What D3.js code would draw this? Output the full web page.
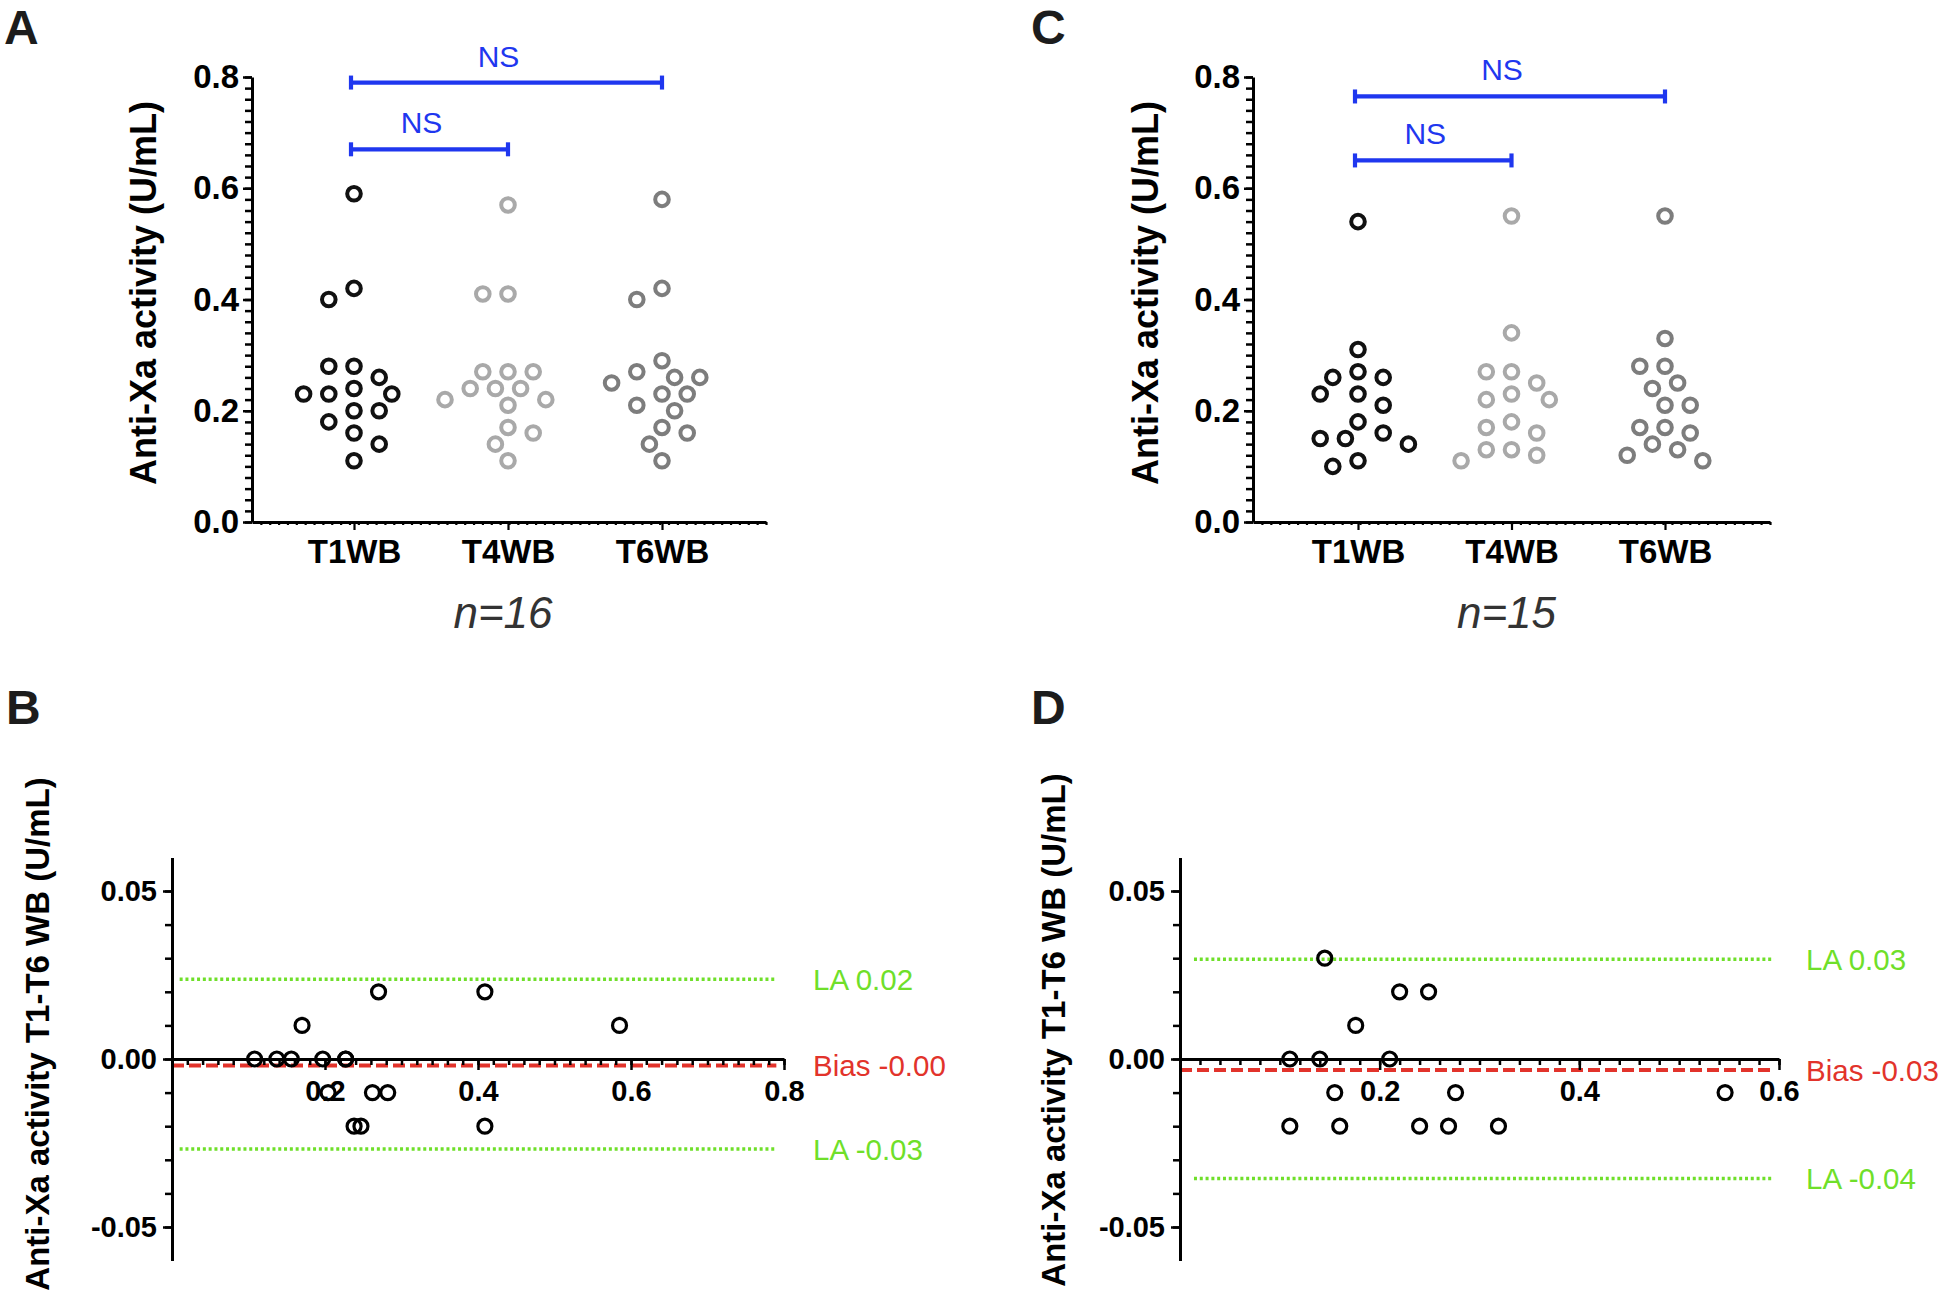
<!DOCTYPE html>
<html><head><meta charset="utf-8">
<script src="https://cdn.jsdelivr.net/npm/d3@7"></script>
<style>
body{margin:0;background:#fff}
svg{display:block}
</style>
</head><body>
<svg id="chart" width="1944" height="1294"></svg>
<script>
// ---------- DATA ----------
const categories = ["T1WB", "T4WB", "T6WB"];
const scatterTicks = [0, 0.2, 0.4, 0.6, 0.8];
const baYTicks = [-0.05, 0, 0.05];
const baXTicksB = [0.2, 0.4, 0.6, 0.8];
const baXTicksD = [0.2, 0.4, 0.6];

// Panel A (n=16)
const A_T1WB = [0.59, 0.42, 0.40, 0.28, 0.28, 0.26, 0.24, 0.23, 0.23, 0.23, 0.20, 0.20, 0.18, 0.16, 0.14, 0.11];
const A_T4WB = [0.57, 0.41, 0.41, 0.27, 0.27, 0.27, 0.24, 0.24, 0.24, 0.22, 0.22, 0.21, 0.17, 0.16, 0.14, 0.11];
const A_T6WB = [0.58, 0.42, 0.40, 0.29, 0.27, 0.26, 0.26, 0.25, 0.23, 0.23, 0.21, 0.20, 0.17, 0.16, 0.14, 0.11];
// Panel C (n=15)
const C_T1WB = [0.54, 0.31, 0.27, 0.26, 0.26, 0.23, 0.23, 0.21, 0.18, 0.16, 0.15, 0.15, 0.14, 0.11, 0.10];
const C_T4WB = [0.55, 0.34, 0.27, 0.27, 0.25, 0.23, 0.22, 0.22, 0.18, 0.17, 0.16, 0.13, 0.13, 0.12, 0.11];
const C_T6WB = [0.55, 0.33, 0.28, 0.28, 0.25, 0.24, 0.21, 0.21, 0.17, 0.17, 0.16, 0.14, 0.13, 0.12, 0.11];

const bracketPairs = [["T1WB", "T4WB"], ["T1WB", "T6WB"]];
const bracketLabels = ["NS", "NS"];
const bracketLevelsA = [0.67, 0.79];
const bracketLevelsC = [0.65, 0.765];
const nLabels = ["n=16", "n=15"];

// Panel B (Bland-Altman, mean vs T1-T6 difference)
const B_mean = [0.270, 0.409, 0.170, 0.585, 0.108, 0.137, 0.156, 0.197, 0.227, 0.227, 0.204, 0.262, 0.282, 0.238, 0.247, 0.409];
const B_diff = [0.02, 0.02, 0.01, 0.01, 0, 0, 0, 0, 0, 0, -0.01, -0.01, -0.01, -0.02, -0.02, -0.02];
const B_lineValues = [0.0237, -0.0019, -0.0268];
const B_lineLabels = ["LA 0.02", "Bias -0.00", "LA -0.03"];
const B_span = [0.01, 0.79];

// Panel D
const D_mean = [0.145, 0.220, 0.249, 0.176, 0.110, 0.140, 0.210, 0.155, 0.276, 0.546, 0.110, 0.160, 0.240, 0.269, 0.319];
const D_diff = [0.03, 0.02, 0.02, 0.01, 0, 0, 0, -0.01, -0.01, -0.01, -0.02, -0.02, -0.02, -0.02, -0.02];
const D_lineValues = [0.0297, -0.0033, -0.0356];
const D_lineLabels = ["LA 0.03", "Bias -0.03", "LA -0.04"];
const D_span = [0.014, 0.595];

// ---------- STYLE ----------
const FONT = "'Liberation Sans', Arial, Helvetica, sans-serif";
const seriesColors = ["#111111", "#a9a9a9", "#7d7d7d"];
const blue = "#1f37ef";
const green = "#6fdf2a";
const red = "#e2332b";

const svg = d3.select("#chart");

function styleAxis(g, fs) {
  g.attr("font-family", null).attr("font-size", null);
  g.selectAll(".domain").attr("stroke", "#000").attr("stroke-width", 3);
  g.selectAll(".tick line").attr("stroke", "#000").attr("stroke-width", 2.5);
  g.selectAll(".tick text").attr("font-family", FONT).attr("font-size", fs)
    .attr("font-weight", "bold").attr("fill", "#000");
}

// greedy beeswarm with local left/right balancing
function swarm(vals, y, unit, minD) {
  const placed = [];
  return vals.map(v => {
    const py = y(v);
    const bal = d3.sum(placed.filter(p => Math.abs(p.py - py) < 3 * minD), p => p.k);
    let off = 0;
    for (let s = 0; s < 40; s++) {
      const cands = s === 0 ? [0] : (bal < 0 ? [s, -s] : [-s, s]);
      const ok = cands.find(k => placed.every(p => Math.hypot((p.k - k) * unit, p.py - py) >= minD));
      if (ok !== undefined) { off = ok; break; }
    }
    placed.push({k: off, py});
    return {v, dx: off * unit};
  });
}

function rotLabel(txt, cx, cy, fs) {
  svg.append("text").attr("transform", `translate(${cx},${cy}) rotate(-90)`)
    .attr("text-anchor", "middle").attr("dy", "0.35em")
    .attr("font-family", FONT).attr("font-size", fs).attr("font-weight", "bold")
    .attr("fill", "#000").text(txt);
}

function letter(txt, x, y) {
  svg.append("text").attr("x", x).attr("y", y).attr("font-family", FONT)
    .attr("font-size", 48).attr("font-weight", "bold").attr("fill", "#1c1c1c").text(txt);
}

function dotPanel(cfg) {
  const y = d3.scaleLinear().domain([0, 0.8]).range([522, 77]);
  const x = d3.scalePoint().domain(categories).range([cfg.c1, cfg.c3]);
  const g = svg.append("g");

  // y axis
  const ya = g.append("g").attr("transform", `translate(${cfg.axisX},0)`);
  ya.call(d3.axisLeft(y).tickValues(d3.range(0, 0.8001, 0.02)).tickSize(7).tickSizeOuter(0).tickFormat(""));
  const yb = ya.append("g");
  yb.call(d3.axisLeft(y).tickValues(scatterTicks).tickSize(9).tickPadding(4).tickSizeOuter(0).tickFormat(d => d.toFixed(1)));
  yb.select(".domain").remove();
  styleAxis(ya, 33);

  // x axis line with minor dots
  const xl = d3.scaleLinear().domain([0, 1]).range([cfg.axisX, cfg.axisEnd]);
  const xa = g.append("g").attr("transform", `translate(0,${y(0)})`);
  xa.call(d3.axisBottom(xl).tickValues(d3.range(1 / 58, 1.0001, 1 / 58)).tickSize(3).tickSizeOuter(0).tickFormat(""));
  const xc = xa.append("g");
  xc.call(d3.axisBottom(x).tickSize(8).tickPadding(10).tickSizeOuter(0));
  xc.select(".domain").remove();
  styleAxis(xa, 33);
  xa.selectAll(".tick line").attr("stroke-width", 2.2);

  // points
  cfg.series.forEach((vals, i) => {
    const cat = categories[i];
    const pts = swarm(vals, y, 12.6, 18);
    g.append("g").selectAll("circle").data(pts).join("circle")
      .attr("cx", d => x(cat) + d.dx).attr("cy", d => y(d.v)).attr("r", 6.8)
      .attr("fill", "none").attr("stroke", seriesColors[i]).attr("stroke-width", 4);
  });

  // brackets
  bracketPairs.forEach((pair, i) => {
    const yy = y(cfg.levels[i]);
    const x1 = x(pair[0]) - 3, x2 = x(pair[1]);
    const bg = g.append("g").attr("stroke", blue).attr("stroke-width", 4.2);
    bg.append("line").attr("x1", x1).attr("x2", x2).attr("y1", yy).attr("y2", yy);
    bg.append("line").attr("x1", x1).attr("x2", x1).attr("y1", yy - 7).attr("y2", yy + 7);
    bg.append("line").attr("x1", x2).attr("x2", x2).attr("y1", yy - 7).attr("y2", yy + 7);
    g.append("text").attr("x", (x1 + x2) / 2 - 8).attr("y", yy - 16).attr("text-anchor", "middle")
      .attr("font-family", FONT).attr("font-size", 30).attr("fill", blue).text(bracketLabels[i]);
  });

  // n label
  g.append("text").attr("x", x("T4WB") - 5).attr("y", 628).attr("text-anchor", "middle")
    .attr("font-family", FONT).attr("font-size", 44).attr("font-style", "italic")
    .attr("fill", "#333").text(cfg.nLabel);

  rotLabel("Anti-Xa activity (U/mL)", cfg.ylabX, 293, 36);
}

function baPanel(cfg) {
  const x = d3.scaleLinear().domain([0, cfg.xMax]).range(cfg.xRange);
  const y = d3.scaleLinear().domain([-0.06, 0.06]).range([1260.6, 857.4]);
  const g = svg.append("g");

  // bias line (under axis)
  g.append("line").attr("x1", x(0)).attr("x2", x(cfg.span[1]))
    .attr("y1", y(cfg.lineValues[1])).attr("y2", y(cfg.lineValues[1]))
    .attr("stroke", red).attr("stroke-width", 4).attr("stroke-dasharray", "12,5");
  // limits of agreement
  [0, 2].forEach(i => {
    g.append("line").attr("x1", x(cfg.span[0])).attr("x2", x(cfg.span[1]))
      .attr("y1", y(cfg.lineValues[i])).attr("y2", y(cfg.lineValues[i]))
      .attr("stroke", green).attr("stroke-width", 3.5).attr("stroke-dasharray", "3,2.8");
  });
  cfg.lineLabels.forEach((t, i) => {
    g.append("text").attr("x", cfg.labelX).attr("y", y(cfg.lineValues[i])).attr("dy", "0.36em")
      .attr("font-family", FONT).attr("font-size", 29.5).attr("fill", i === 1 ? red : green).text(t);
  });

  // y axis
  const ya = g.append("g").attr("transform", `translate(${x(0)},0)`);
  ya.call(d3.axisLeft(y).tickValues(d3.range(-0.05, 0.0501, 0.01)).tickSize(7).tickSizeOuter(0).tickFormat(""));
  const yb = ya.append("g");
  yb.call(d3.axisLeft(y).tickValues(baYTicks).tickSize(9).tickPadding(6).tickSizeOuter(0).tickFormat(d => d.toFixed(2)));
  yb.select(".domain").remove();
  styleAxis(ya, 29);

  // x axis at zero
  const xa = g.append("g").attr("transform", `translate(0,${y(0)})`);
  xa.call(d3.axisBottom(x).tickValues(d3.range(0.02, cfg.xMax + 0.001, 0.02)).tickSize(6).tickSizeOuter(0).tickFormat(""));
  const xb = xa.append("g");
  xb.call(d3.axisBottom(x).tickValues(cfg.xTicks).tickSize(11).tickPadding(10).tickSizeOuter(0).tickFormat(d => d.toFixed(1)));
  xb.select(".domain").remove();
  styleAxis(xa, 29);

  // points
  g.append("g").selectAll("circle").data(cfg.means.map((m, i) => [m, cfg.diffs[i]])).join("circle")
    .attr("cx", d => x(d[0])).attr("cy", d => y(d[1])).attr("r", 7)
    .attr("fill", "none").attr("stroke", "#000").attr("stroke-width", 3.2);

  rotLabel("Anti-Xa activity T1-T6 WB (U/mL)", cfg.ylabX, cfg.ylabY, 33);
}

dotPanel({axisX: 252, axisEnd: 766, c1: 354, c3: 662, series: [A_T1WB, A_T4WB, A_T6WB],
  levels: bracketLevelsA, nLabel: nLabels[0], ylabX: 143});
dotPanel({axisX: 1253, axisEnd: 1770, c1: 1358, c3: 1665, series: [C_T1WB, C_T4WB, C_T6WB],
  levels: bracketLevelsC, nLabel: nLabels[1], ylabX: 1145});

baPanel({xMax: 0.8, xRange: [172, 784], xTicks: baXTicksB, means: B_mean, diffs: B_diff,
  lineValues: B_lineValues, lineLabels: B_lineLabels, span: B_span, labelX: 813, ylabX: 37, ylabY: 1034});
baPanel({xMax: 0.6, xRange: [1180, 1779], xTicks: baXTicksD, means: D_mean, diffs: D_diff,
  lineValues: D_lineValues, lineLabels: D_lineLabels, span: D_span, labelX: 1806, ylabX: 1053, ylabY: 1030});

letter("A", 4, 44);
letter("C", 1031, 44);
letter("B", 6, 724);
letter("D", 1031, 724);
</script>
</body></html>
